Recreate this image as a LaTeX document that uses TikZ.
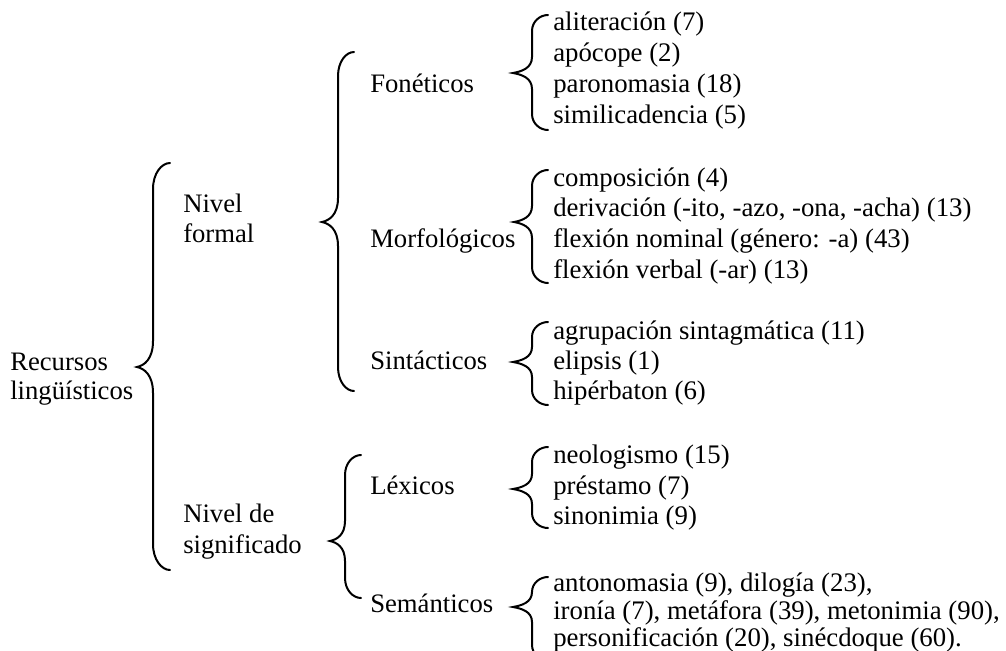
\documentclass[tikz,border=0pt]{standalone}
\usepackage{fontspec}
\setmainfont{Liberation Serif}

% Left curly brace: #1 end x, #2 spine x, #3 tip x, #4 top y, #5 tip y, #6 bottom y, #7 curl size
\newcommand\BraceLeft[7]{%
  \draw[bracestroke]
    (#1,#4) .. controls ({#2+0.5*(#1-#2)},#4) and (#2,{#4+0.4*#7}) .. (#2,{#4+#7})
    -- (#2,{#5-#7})
    .. controls (#2,{#5-0.3*#7}) and ({#3+0.45*(#2-#3)},{#5-1.5}) .. (#3,#5)
    .. controls ({#3+0.45*(#2-#3)},{#5+1.5}) and (#2,{#5+0.3*#7}) .. (#2,{#5+#7})
    -- (#2,{#6-#7})
    .. controls (#2,{#6-0.4*#7}) and ({#2+0.5*(#1-#2)},#6) .. (#1,#6);}

\begin{document}
\begin{tikzpicture}[x=0.75pt,y=-0.75pt,
  lbl/.style={anchor=base west,inner sep=0pt,font=\fontsize{20}{24}\selectfont},
  item/.style={anchor=base west,inner sep=0pt,font=\fontsize{20.1}{24}\selectfont},
  bracestroke/.style={line width=1.5pt,line cap=round}]
\useasboundingbox (0,0) rectangle (1006,650);

% root
\node[lbl] (root1) at (10,370) {Recursos};
\node[lbl] (root2) at (10,399) {lingüísticos};
\BraceLeft{170}{153}{137}{163}{367}{570}{26}

% first level
\node[lbl] (form1) at (183,212) {Nivel};
\node[lbl] (form2) at (183,242) {formal};
\node[lbl] (sig1) at (183,522) {Nivel de};
\node[lbl] (sig2) at (183,553) {significado};
\BraceLeft{354}{338}{322}{52}{222}{391}{24}
\BraceLeft{361}{345}{330}{455}{541}{598}{20}

% second level
\node[lbl] (fon) at (370,92) {Fonéticos};
\node[lbl] (mor) at (370,247) {Morfológicos};
\node[lbl] (sin) at (370,369) {Sintácticos};
\node[lbl] (lex) at (370,494) {Léxicos};
\node[lbl] (sem) at (370,612) {Semánticos};

% phonetic devices
\BraceLeft{548}{532}{513}{15}{73}{130}{16}
\node[item] (fon1) at (553,30) {aliteración (7)};
\node[item] (fon2) at (553,61) {apócope (2)};
\node[item] (fon3) at (553,92) {paronomasia (18)};
\node[item] (fon4) at (553,123) {similicadencia (5)};

% morphological devices
\BraceLeft{548}{532}{514}{170}{222}{283}{16}
\node[item] (mor1) at (553,186) {composición (4)};
\node[item] (mor2) at (553,216) {derivación (-ito, -azo, -ona, -acha) (13)};
\node[item] (mor3) at (553,247) {flexión nominal (género: -a) (43)};
\node[item] (mor4) at (553,278) {flexión verbal (-ar) (13)};

% syntactic devices
\BraceLeft{548}{532}{513}{322}{362}{405}{15}
\node[item] (sin1) at (553,339) {agrupación sintagmática (11)};
\node[item] (sin2) at (553,369) {elipsis (1)};
\node[item] (sin3) at (553,399) {hipérbaton (6)};

% lexical devices
\BraceLeft{548}{532}{513}{447}{489}{528}{15}
\node[item] (lex1) at (553,463) {neologismo (15)};
\node[item] (lex2) at (553,494) {préstamo (7)};
\node[item] (lex3) at (553,524) {sinonimia (9)};

% semantic devices
\BraceLeft{548}{532}{513}{577}{607}{660}{15}
\node[item] (sem1) at (553,591) {antonomasia (9), dilogía (23),};
\node[item] (sem2) at (553,619) {ironía (7), metáfora (39), metonimia (90),};
\node[item] (sem3) at (553,646) {personificación (20), sinécdoque (60).};
\end{tikzpicture}
\end{document}
